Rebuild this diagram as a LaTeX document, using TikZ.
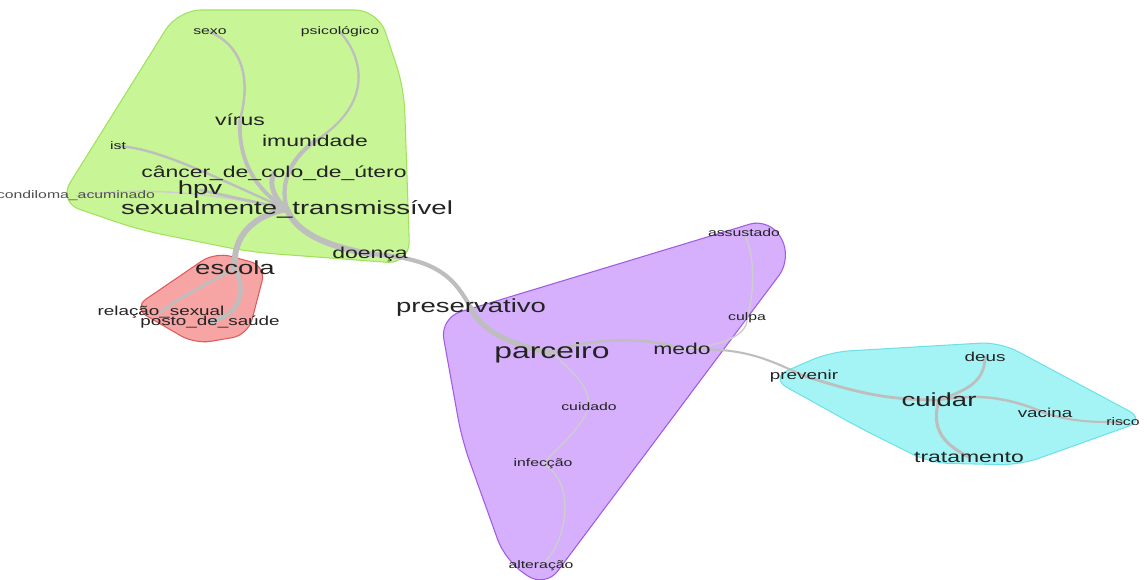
\documentclass[tikz,border=0pt]{standalone}
\usepackage{fontspec}
\setmainfont{Liberation Sans}
\definecolor{lk}{RGB}{190,190,190}
\definecolor{lkf}{RGB}{205,205,205}
\definecolor{tx}{RGB}{35,35,35}
\definecolor{grf}{RGB}{200,246,150}
\definecolor{grd}{RGB}{160,226,90}
\definecolor{rdf}{RGB}{246,164,164}
\definecolor{rdd}{RGB}{226,90,90}
\definecolor{puf}{RGB}{214,176,252}
\definecolor{pud}{RGB}{160,90,230}
\definecolor{cyf}{RGB}{164,244,245}
\definecolor{cyd}{RGB}{110,225,232}
\pgfdeclarelayer{hull}
\pgfdeclarelayer{links}
\pgfsetlayers{hull,links,main}

\begin{document}
\begin{tikzpicture}[x=0.02cm, y=-0.02cm,
    every node/.style={inner sep=0pt, text=tx, xscale=1.45},
    sm/.style={font=\fontsize{6.2}{7}\selectfont},
    md/.style={font=\fontsize{7.4}{8}\selectfont},
    lg/.style={font=\fontsize{9}{10}\selectfont},
    xl/.style={font=\fontsize{10.8}{12}\selectfont},
    xxl/.style={font=\fontsize{12.5}{14}\selectfont},
    lnk/.style={draw=lk, line width=#1pt, line cap=round},
    faint/.style={draw=lkf, line width=0.8pt},
    hull/.style={rounded corners=#1, line width=0.6pt}]
    \useasboundingbox (0,0) rectangle (1147,579);

    \node[sm] (sexo) at (210,32) {sexo};
    \node[sm] (psico) at (340,32) {psicológico};
    \node[lg] (virus) at (240,120) {vírus};
    \node[lg] (imun) at (315,141) {imunidade};
    \node[sm] (ist) at (118,146) {ist};
    \node[lg] (cancer) at (274,173) {câncer\_de\_colo\_de\_útero};
    \node[sm, text=tx!80] (cond) at (76,196) {condiloma\_acuminado};
    \node[xl] (hpv) at (200,190) {hpv};
    \node[xl] (st) at (287,209) {sexualmente\_transmissível};
    \node[lg] (doenca) at (370,254) {doença};

    \node[xl] (escola) at (235,268) {escola};
    \node[md] (relacao) at (161,312) {relação\_sexual};
    \node[md] (posto) at (210,322) {posto\_de\_saúde};

    \node[xl] (preserv) at (471,308) {preservativo};
    \node[xxl] (parc) at (552,353) {parceiro};
    \node[lg] (medo) at (682,349) {medo};
    \node[sm] (assust) at (744,233) {assustado};
    \node[sm] (culpa) at (747,318) {culpa};
    \node[sm] (cuidado) at (589,407) {cuidado};
    \node[sm] (infec) at (543,464) {infecção};
    \node[sm] (alter) at (541,566) {alteração};

    \node[md] (prev) at (804,376) {prevenir};
    \node[md] (deus) at (985,357) {deus};
    \node[xl] (cuidar) at (939,400) {cuidar};
    \node[md] (vacina) at (1045,413) {vacina};
    \node[sm] (risco) at (1123,422) {risco};
    \node[lg] (trat) at (969,457) {tratamento};

    \begin{pgfonlayer}{hull}
    \draw[hull=13pt, fill=grf, draw=grd] (58,202) -- (178,10) -- (378,10) -- (404,88) -- (410,264) -- (250,252) -- (140,230) -- cycle;
    \draw[hull=9pt, fill=rdf, draw=rdd] (133,308) -- (215,252) -- (266,266) -- (248,335) -- (195,344) -- cycle;
    \draw[hull=12pt, fill=puf, draw=pud] (440,318) -- (770,218) -- (792,258) -- (545,588) -- (505,560) -- (462,440) -- cycle;
    \draw[hull=11pt, fill=cyf, draw=cyd] (770,378) -- (830,352) -- (1000,342) -- (1146,420) -- (1020,465) -- (930,463) -- (860,428) -- cycle;
    \end{pgfonlayer}

    \begin{pgfonlayer}{links}
    \draw[lnk=1.4] (sexo.center) .. controls (240,45) and (252,75) .. (virus.center);
    \draw[lnk=2.2] (virus.center) .. controls (238,160) and (255,190) .. (st.center);
    \draw[lnk=1.3] (psico.center) .. controls (365,60) and (372,105) .. (imun.center);
    \draw[lnk=2.4] (imun.center) .. controls (295,155) and (278,180) .. (st.center);
    \draw[lnk=2.8] (cancer.center) .. controls (268,185) and (275,200) .. (st.center);
    \draw[lnk=1.4] (ist.center) .. controls (160,148) and (220,180) .. (st.center);
    \draw[faint] (cond.center) .. controls (150,185) and (220,195) .. (st.center);
    \draw[lnk=1.6] (hpv.center) -- (st.center);
    \draw[lnk=3.4] (st.center) .. controls (295,230) and (320,245) .. (doenca.center);
    \draw[lnk=3.4] (st.center) .. controls (255,215) and (232,235) .. (escola.center);
    \draw[lnk=1.6] (escola.center) .. controls (205,285) and (175,300) .. (relacao.center);
    \draw[lnk=2.4] (escola.center) .. controls (248,295) and (238,315) .. (posto.center);

    \draw[lnk=2.4] (doenca.center) .. controls (440,258) and (455,280) .. (preserv.center);
    \draw[lnk=3] (preserv.center) .. controls (480,330) and (510,345) .. (parc.center);
    \draw[lnk=1.4] (parc.center) .. controls (580,338) and (650,336) .. (medo.center);
    \draw[lnk=1.2] (medo.center) .. controls (740,348) and (760,355) .. (prev.center);
    \draw[faint] (medo.center) .. controls (735,345) and (748,330) .. (culpa.center);
    \draw[faint] (culpa.center) .. controls (755,290) and (755,255) .. (assust.center);
    \draw[faint] (parc.center) .. controls (570,370) and (590,385) .. (cuidado.center);
    \draw[faint] (cuidado.center) .. controls (580,430) and (560,445) .. (infec.center);
    \draw[faint] (infec.center) .. controls (575,480) and (570,540) .. (alter.center);

    \draw[lnk=1.6] (prev.center) .. controls (850,390) and (880,400) .. (cuidar.center);
    \draw[lnk=1.6] (cuidar.center) .. controls (960,392) and (985,385) .. (deus.center);
    \draw[lnk=1.4] (cuidar.center) .. controls (980,393) and (1010,398) .. (vacina.center);
    \draw[lnk=1.2] (vacina.center) .. controls (1075,423) and (1100,422) .. (risco.center);
    \draw[lnk=1.8] (cuidar.center) .. controls (930,430) and (945,445) .. (trat.center);
    \end{pgfonlayer}
\end{tikzpicture}
\end{document}
